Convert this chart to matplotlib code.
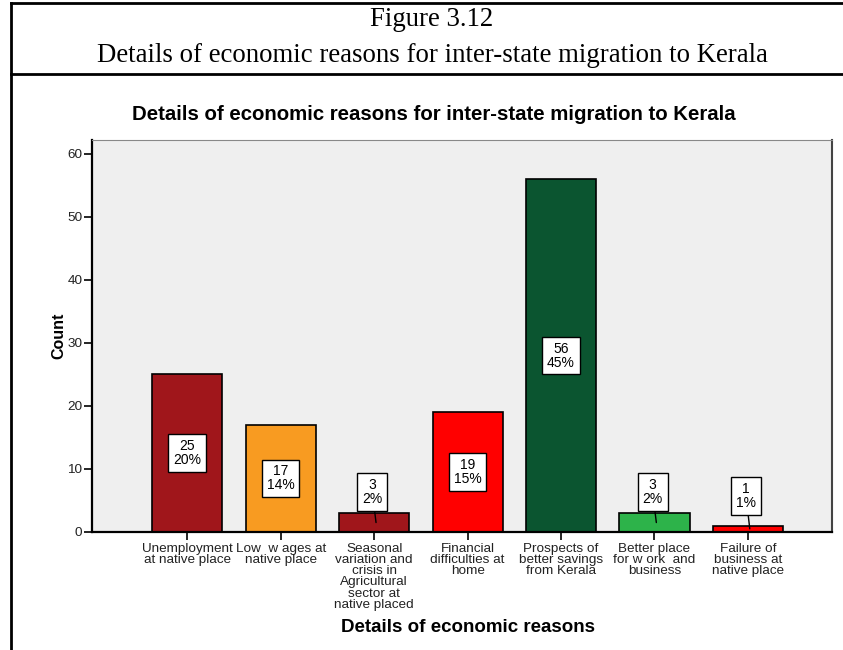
import numpy as np
import matplotlib.pyplot as plt
from matplotlib.lines import Line2D

reasons = [
    "Unemployment\nat native place",
    "Low  w ages at\nnative place",
    "Seasonal\nvariation and\ncrisis in\nAgricultural\nsector at\nnative placed",
    "Financial\ndifficulties at\nhome",
    "Prospects of\nbetter savings\nfrom Kerala",
    "Better place\nfor w ork  and\nbusiness",
    "Failure of\nbusiness at\nnative place",
]
counts = [25, 17, 3, 19, 56, 3, 1]
percents = [20, 14, 2, 15, 45, 2, 1]
colors = ["#a0161b", "#f89b21", "#a0161b", "#ff0000", "#0b5530", "#2db34a", "#ff0000"]

plt.rcParams["font.family"] = ["Liberation Sans", "DejaVu Sans"]

W, H = 843, 650
fig = plt.figure(figsize=(W / 100, H / 100), dpi=100)

# page frame around the figure caption
for (x0, y0, x1, y1) in [(11, 3, 843, 3), (11, 74, 843, 74), (11, 3, 11, 650)]:
    fig.add_artist(Line2D([x0 / W, x1 / W], [1 - y0 / H, 1 - y1 / H],
                          color="black", lw=2, transform=fig.transFigure))
fig.text(432 / W, 1 - 20 / H, "Figure 3.12", family="Liberation Serif",
         fontsize=19.3, ha="center", va="center")
fig.text(432 / W, 1 - 55 / H, "Details of economic reasons for inter-state migration to Kerala",
         family="Liberation Serif", fontsize=19.3, ha="center", va="center")

fig.text(434 / W, 1 - 115 / H, "Details of economic reasons for inter-state migration to Kerala",
         fontsize=14.7, fontweight="bold", ha="center", va="center")

ax = fig.add_axes([92 / W, 1 - 532 / H, 740 / W, 392 / H])
ax.set_facecolor("#efefef")
x = np.arange(len(counts))
ax.bar(x, counts, width=0.75, color=colors, edgecolor="black", linewidth=1.2, zorder=2)
ax.set_xlim(-1.02, 6.9)
ax.set_ylim(0, 62.2)
ax.set_yticks([0, 10, 20, 30, 40, 50, 60])
ax.set_xticks(x)
ax.set_xticklabels(reasons, fontsize=9.7, linespacing=0.9, va="top")
ax.tick_params(axis="both", length=6, width=1.2, color="black", labelcolor="#222222")
ax.tick_params(axis="y", labelsize=9.7, pad=1)
ax.tick_params(axis="x", pad=2)
for side in ["left", "bottom"]:
    ax.spines[side].set_linewidth(1.6)
    ax.spines[side].set_color("black")
ax.spines["top"].set_color("#888888")
ax.spines["right"].set_color("#444444")
ax.spines["right"].set_linewidth(1.5)

box = dict(boxstyle="square,pad=0.35", fc="white", ec="black", lw=1)
for i, (c, p) in enumerate(zip(counts, percents)):
    txt = f"{c}\n{p}%"
    if c >= 10:
        ax.text(i, c / 2, txt, ha="center", va="center", fontsize=10,
                linespacing=1.0, bbox=box, zorder=4)
    else:
        ty = 6.3 if c > 1 else 5.7
        ax.annotate(txt, xy=(i + 0.02, c / 2), xytext=(i - 0.02, ty),
                    ha="center", va="center", fontsize=10, linespacing=1.0,
                    bbox=box, zorder=4,
                    arrowprops=dict(arrowstyle="-", color="black", lw=1,
                                    shrinkA=0, shrinkB=0))

ax.set_ylabel("Count", fontsize=11.5, fontweight="bold")
ax.yaxis.set_label_coords(-0.034, 0.5)
fig.text(468 / W, 1 - 628 / H, "Details of economic reasons", fontsize=13.5,
         fontweight="bold", ha="center", va="center")

fig.savefig("out.png", dpi=100)
